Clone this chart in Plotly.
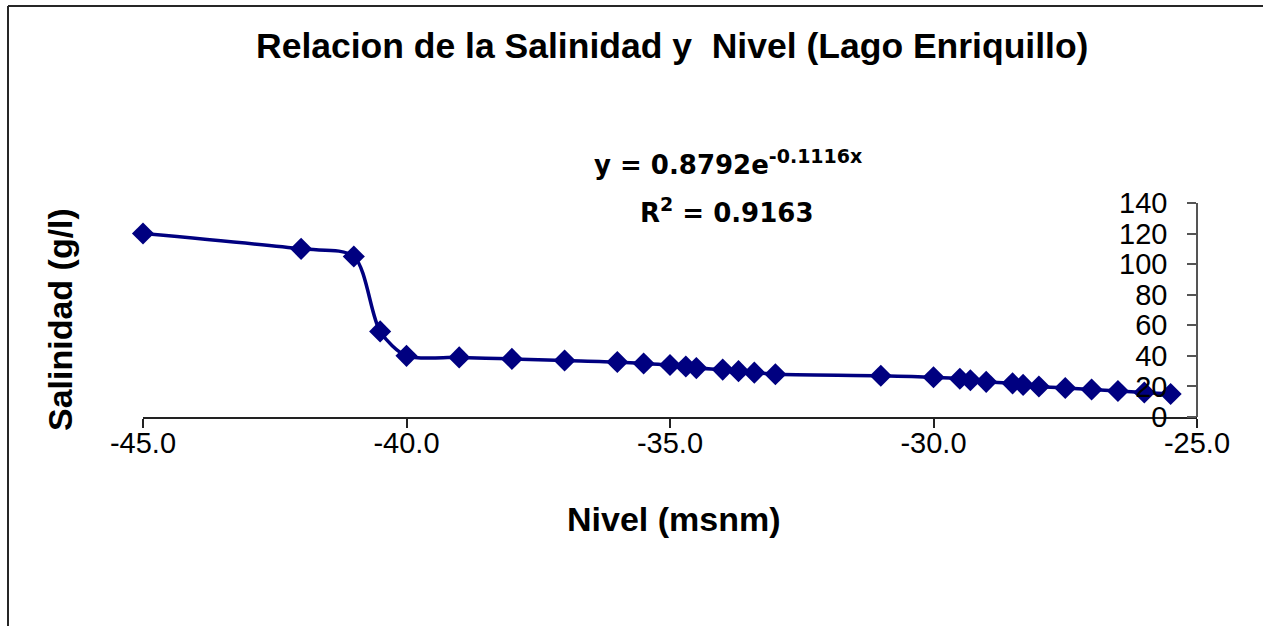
import plotly.graph_objects as go

# Lake level (m above sea level) and salinity (g/l)
nivel = [-45, -42, -41, -40.5, -40, -39, -38, -37, -36, -35.5, -35, -34.7, -34.5,
         -34, -33.7, -33.4, -33, -31, -30, -29.5, -29.3, -29, -28.5, -28.3, -28,
         -27.5, -27, -26.5, -26, -25.5]
salinidad = [120, 110, 105, 56, 40, 39, 38, 37, 36, 35, 34, 33, 32,
             31, 30, 29, 28, 27, 26, 25, 24, 23, 22, 21, 20,
             19, 18, 17, 16, 15]

x_ticks = [-45, -40, -35, -30, -25]
x_tick_labels = ["-45.0", "-40.0", "-35.0", "-30.0", "-25.0"]
y_ticks = [0, 20, 40, 60, 80, 100, 120, 140]

W, H = 1263, 626
L, R, T, B = 143, 1197, 203, 417


def px(x):
    return (x - L) / (R - L)


def py(y):
    return (B - y) / (B - T)


navy = "#000080"
fig = go.Figure()
fig.add_trace(go.Scatter(
    x=nivel, y=salinidad, mode="lines+markers",
    line=dict(color=navy, width=3.5, shape="spline", smoothing=0.8),
    marker=dict(symbol="diamond", size=17, color=navy),
    cliponaxis=False, showlegend=False,
))

axis_font = dict(size=29, color="black")
eq_font = dict(size=26, family="DejaVu Sans, sans-serif", color="black")
fig.update_layout(
    width=W, height=H,
    margin=dict(l=L, r=W - R, t=T, b=H - B, autoexpand=False),
    paper_bgcolor="white", plot_bgcolor="white",
    font=dict(family="Liberation Sans, Arial, sans-serif", color="black"),
    xaxis=dict(
        range=[-45, -25], tickvals=x_ticks, ticktext=x_tick_labels,
        showgrid=False, zeroline=False,
        showline=True, linecolor="#222", linewidth=1.5,
        ticks="outside", ticklen=9, tickcolor="#222", tickwidth=1.5,
        tickfont=axis_font, ticklabelstandoff=-10,
    ),
    yaxis=dict(
        range=[0, 140], tickvals=y_ticks,
        anchor="free", position=1.0, side="left",
        showgrid=False, zeroline=False,
        showline=True, linecolor="#555", linewidth=1.5,
        ticks="outside", ticklen=9, tickcolor="#555", tickwidth=1.5,
        tickfont=axis_font, ticklabelstandoff=14,
    ),
    annotations=[
        dict(text="<b>Relacion de la Salinidad y  Nivel (Lago Enriquillo)</b>",
             x=px(672), y=py(46), font=dict(size=35.5)),
        dict(text="<b>Nivel (msnm)</b>",
             x=px(674), y=py(519), font=dict(size=34)),
        dict(text="<b>Salinidad (g/l)</b>", textangle=-90,
             x=px(60), y=py(320), font=dict(size=34)),
        dict(text="<b>y = 0.8792e<sup><span style='font-size:19px'>"
                  "-0.1116x</span></sup></b>",
             x=px(728), y=py(162), font=eq_font),
        dict(text="<b>R<sup><span style='font-size:19px'>2</span></sup>"
                  " = 0.9163</b>",
             x=px(727), y=py(210), font=eq_font),
    ],
    shapes=[
        dict(type="line", xref="paper", yref="paper",
             x0=px(8), y0=py(6), x1=px(W + 5), y1=py(6),
             line=dict(color="#262626", width=2)),
        dict(type="line", xref="paper", yref="paper",
             x0=px(8), y0=py(6), x1=px(8), y1=py(H + 5),
             line=dict(color="#262626", width=2)),
    ],
)
fig.update_annotations(xref="paper", yref="paper", showarrow=False,
                       xanchor="center", yanchor="middle")

fig.write_html("out.html")
